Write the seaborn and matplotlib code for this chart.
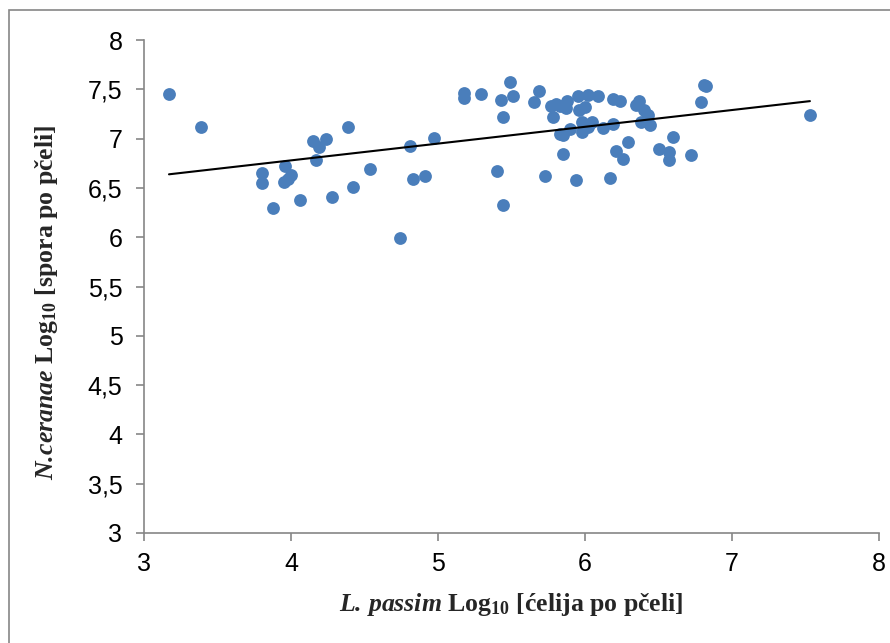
import numpy as np
import pandas as pd
import matplotlib
matplotlib.use("Agg")
import matplotlib.pyplot as plt
import seaborn as sns
from matplotlib.patches import Rectangle

# ---- data ----
l_passim = [3.17, 3.39, 3.80, 3.80, 3.88, 3.96, 3.95, 3.98, 4.00, 4.06,
            4.15, 4.19, 4.24, 4.17, 4.28, 4.39, 4.42, 4.54, 4.74, 4.81,
            4.83, 4.91, 4.97, 5.18, 5.18, 5.29, 5.40, 5.44, 5.49, 5.43,
            5.51, 5.44, 5.69, 5.65, 5.73, 5.77, 5.80, 5.83, 5.78, 5.88,
            5.87, 5.95, 6.02, 6.09, 5.96, 6.00, 5.98, 6.05, 6.02, 5.98,
            5.90, 5.83, 5.85, 5.85, 5.94, 6.12, 6.19, 6.19, 6.24, 6.21,
            6.26, 6.29, 6.17, 6.35, 6.37, 6.40, 6.43, 6.38, 6.44, 6.50,
            6.57, 6.57, 6.60, 6.72, 6.79, 6.81, 6.82, 7.53]
n_ceranae = [7.45, 7.12, 6.65, 6.55, 6.30, 6.72, 6.56, 6.59, 6.63, 6.38,
             6.98, 6.91, 7.00, 6.78, 6.41, 7.12, 6.51, 6.69, 5.99, 6.93,
             6.59, 6.62, 7.01, 7.41, 7.46, 7.45, 6.67, 6.33, 7.57, 7.39,
             7.43, 7.22, 7.48, 7.37, 6.62, 7.33, 7.35, 7.33, 7.22, 7.38,
             7.31, 7.43, 7.44, 7.43, 7.29, 7.32, 7.17, 7.17, 7.12, 7.07,
             7.10, 7.05, 7.04, 6.84, 6.58, 7.11, 7.15, 7.40, 7.38, 6.87,
             6.79, 6.97, 6.60, 7.34, 7.38, 7.29, 7.24, 7.17, 7.14, 6.89,
             6.86, 6.78, 7.02, 6.83, 7.37, 7.54, 7.53, 7.24]
x_ticks = [3, 4, 5, 6, 7, 8]
y_ticks = [3, 3.5, 4, 4.5, 5, 5.5, 6, 6.5, 7, 7.5, 8]
y_tick_labels = ["3", "3,5", "4", "4,5", "5", "5,5", "6", "6,5", "7", "7,5", "8"]

df = pd.DataFrame({"x": l_passim, "y": n_ceranae})

sns.set_style("white")
plt.rcParams["font.family"] = ["Liberation Sans", "DejaVu Sans"]
plt.rcParams["mathtext.fontset"] = "custom"
plt.rcParams["mathtext.rm"] = "Liberation Serif"
plt.rcParams["mathtext.it"] = "Liberation Serif:italic"
plt.rcParams["mathtext.bf"] = "Liberation Serif:bold"
plt.rcParams["mathtext.bfit"] = "Liberation Serif:italic:bold"

fig = plt.figure(figsize=(8.9, 6.43), dpi=100)
ax = fig.add_axes([144 / 890, 1 - 533 / 643, (879 - 144) / 890, (533 - 40) / 643])

blue = "#4A7EBB"
sns.scatterplot(data=df, x="x", y="y", ax=ax, color=blue, s=85,
                edgecolor=blue, linewidth=0, zorder=3)

# linear trend line
coef = np.polyfit(df["x"], df["y"], 1)
xs = np.array([df["x"].min(), df["x"].max()])
sns.lineplot(x=xs, y=np.polyval(coef, xs), ax=ax, color="black", lw=1.5, zorder=4)

ax.set_xlim(3, 8)
ax.set_ylim(3, 8)
ax.set_xticks(x_ticks)
ax.set_xticklabels([str(t) for t in x_ticks])
ax.set_yticks(y_ticks)
ax.set_yticklabels(y_tick_labels)

gray = "#868686"
for s in ["top", "right"]:
    ax.spines[s].set_visible(False)
for s in ["left", "bottom"]:
    ax.spines[s].set_color(gray)
    ax.spines[s].set_linewidth(1.2)
ax.tick_params(axis="both", which="major", direction="out", length=5.5,
               width=1.2, color=gray, labelsize=18, labelcolor="black",
               left=True, bottom=True)
ax.tick_params(axis="y", pad=10)
ax.tick_params(axis="x", pad=8)

serif = ["Liberation Serif", "DejaVu Serif"]
ax.set_xlabel(r"$\mathbfit{L{.}\,passim}$ $\mathbf{Log_{10}}$ [ćelija po pčeli]",
              fontsize=18.5, fontweight="bold", family=serif)
ax.set_ylabel(r"$\mathbfit{N{.}\!ceranae}$ $\mathbf{Log_{10}}$ [spora po pčeli]",
              fontsize=18.5, fontweight="bold", family=serif)
ax.xaxis.label.set_verticalalignment("center")
ax.yaxis.label.set_verticalalignment("center")
ax.xaxis.set_label_coords(0.5, (533 - 605) / 493)
ax.yaxis.set_label_coords((47 - 144) / 735, (533 - 302) / 493)

# outer chart frame (cut at right and bottom like the reference)
fig.patches.append(Rectangle((9 / 890, -0.1), 1.2, 1.1 - 10 / 643,
                             transform=fig.transFigure, fill=False,
                             edgecolor=gray, linewidth=1.2))

fig.savefig("out.png", dpi=100)
